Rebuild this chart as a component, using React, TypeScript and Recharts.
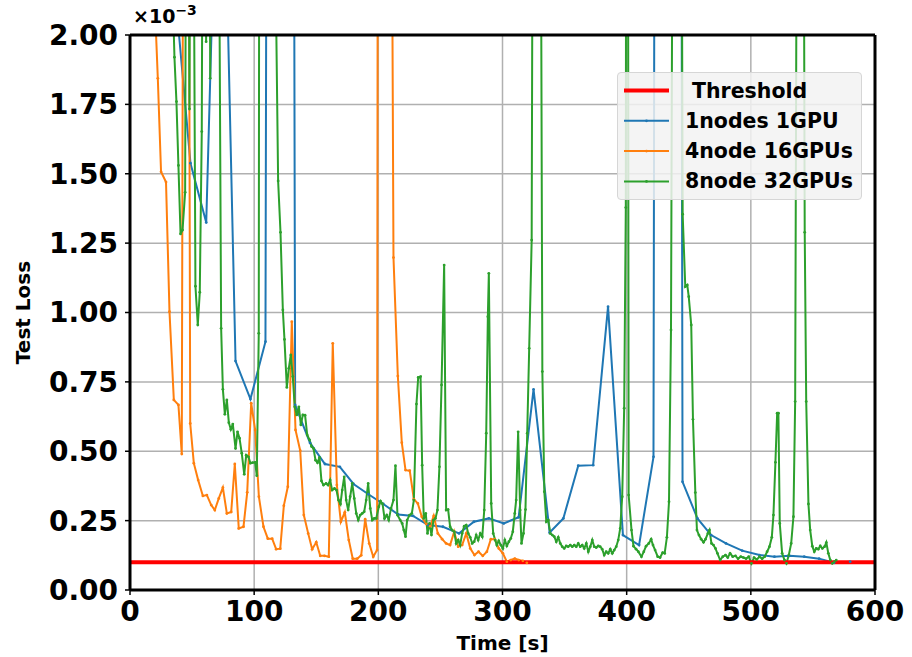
import React from 'react';
import { LineChart, Line, XAxis, YAxis, CartesianGrid, ReferenceLine, Label } from 'recharts';

// Values in units of 1e-3 (axis shows ×10^-3)
const xTicks = [0, 100, 200, 300, 400, 500, 600];
const yTicks = [0, 0.25, 0.5, 0.75, 1, 1.25, 1.5, 1.75, 2];
const thresholdValue = 0.1;

const blueTime = [36.5, 48.7, 61.4, 73, 85, 97, 109.1, 121, 133, 145, 157, 169, 180, 192, 204, 216, 228, 240, 252, 265, 277, 289, 301, 313, 325, 338, 349, 361, 373, 385, 397, 410, 421.6, 433, 445, 457, 468, 480, 493, 507, 519, 531, 543, 555, 567, 580];
const blueLoss = [2.15, 1.538, 1.324, 3.2, 0.825, 0.688, 0.895, 25, 0.667, 0.53, 0.454, 0.444, 0.382, 0.345, 0.31, 0.272, 0.267, 0.234, 0.228, 0.204, 0.246, 0.258, 0.24, 0.262, 0.723, 0.207, 0.258, 0.448, 0.45, 1.021, 0.198, 0.162, 0.48, 30, 0.39, 0.258, 0.198, 0.168, 0.142, 0.126, 0.12, 0.123, 0.12, 0.113, 0.098, 0.102];

const orangeTime = [19.2, 22.4, 25.0, 29.0, 31.8, 35.3, 39.0, 41.7, 45.0, 48.5, 51.4, 54.9, 58.7, 61.9, 65.4, 68.3, 71.5, 74.8, 78.0, 81.5, 84.4, 87.6, 91.4, 94.4, 97.6, 100.8, 103.8, 107.5, 111.0, 114.5, 117.7, 121.0, 123.9, 127.1, 130.3, 133.3, 137.1, 140.0, 143.5, 146.7, 150.0, 153.2, 156.6, 160.1, 163.3, 166.6, 169.8, 173.0, 176.2, 179.4, 183.0, 186.2, 189.4, 192.6, 195.9, 199.0, 202.2, 205.4, 209.0, 212.2, 215.7, 218.9, 221.9, 225.3, 228.6, 231.8, 235.0, 238.5, 241.8, 244.6, 247.9, 251.4, 254.6, 257.8, 261.1, 264.3, 267.5, 270.8, 274.0, 277.4, 280.7, 284.1, 287.4, 290.6, 293.8, 297.0, 300.3, 303.5, 306.7, 309.9, 313.1, 316.4, 319.6];
const orangeLoss = [2.2, 1.844, 1.507, 1.47, 1.003, 0.685, 0.667, 0.49, 6.7, 0.6, 0.457, 0.396, 0.339, 0.342, 0.306, 0.288, 0.33, 0.369, 0.276, 0.281, 0.454, 0.222, 0.228, 0.352, 0.673, 0.577, 0.336, 0.228, 0.185, 0.185, 0.147, 0.149, 0.304, 0.372, 0.967, 0.577, 0.502, 0.27, 0.204, 0.147, 0.172, 0.123, 0.123, 0.12, 0.889, 0.378, 0.246, 0.28, 0.18, 0.113, 0.113, 0.125, 0.255, 0.168, 0.12, 0.144, 15, 20, 4.4, 1.198, 0.771, 0.531, 0.432, 0.43, 0.327, 0.312, 0.264, 0.238, 0.23, 0.267, 0.204, 0.183, 0.168, 0.162, 0.21, 0.156, 0.162, 0.204, 0.15, 0.126, 0.138, 0.123, 0.138, 0.183, 0.183, 0.15, 0.132, 0.102, 0.108, 0.113, 0.108, 0.105, 0.098];

const greenTime = [34.2, 35.8, 37.4, 39.0, 40.7, 42.3, 44.4, 46.0, 47.9, 49.5, 51.1, 52.7, 54.6, 56.2, 57.8, 59.5, 61.3, 62.9, 64.6, 66.3, 68.0, 69.8, 71.5, 73.4, 74.8, 76.4, 78.0, 79.6, 81.2, 82.8, 85.0, 86.6, 88.2, 90.0, 92.0, 93.6, 95.4, 97.0, 98.7, 100.8, 102.1, 103.7, 105.3, 107, 109, 111, 113, 115, 116.2, 117.6, 119.3, 121.2, 123.1, 124.4, 126.3, 127.9, 129.5, 131.1, 132.7, 134.3, 136.0, 137.6, 139.2, 141.0, 142.7, 144.6, 146.2, 147.8, 149.4, 151.0, 152.6, 154.2, 155.8, 157.9, 159.5, 161.2, 162.8, 164.7, 166.3, 167.9, 169.5, 170.9, 172.5, 174.1, 175.7, 177.3, 179.0, 180.6, 182.2, 183.8, 185.4, 187.0, 188.6, 190.2, 191.8, 193.5, 195.1, 196.7, 198.3, 200.4, 201.8, 203.4, 205.0, 206.8, 208.4, 210.2, 212.2, 213.8, 215.4, 217.6, 219.2, 220.5, 221.9, 223.2, 225.1, 227.0, 228.6, 230.7, 232.1, 234.0, 235.3, 236.6, 238.2, 239.6, 241.2, 242.8, 244.4, 246.0, 247.6, 249.2, 250.9, 253.0, 254.6, 256.2, 257.8, 259.4, 261.1, 262.7, 264.3, 265.9, 267.5, 269.1, 270.8, 272.4, 274.0, 275.6, 277.2, 278.8, 280.4, 282.1, 283.7, 285.3, 286.9, 288.2, 289.0, 290.9, 292.5, 294.1, 295.4, 297.0, 298.6, 300.3, 301.9, 303.5, 305.1, 306.7, 308.3, 309.9, 311.0, 312.6, 314.2, 315.3, 316.9, 318.5, 319.9, 321.5, 323.5, 325.1, 326.9, 328.7, 330.4, 332.1, 333.7, 335.3, 336.9, 338.5, 340.1, 341.7, 343.3, 344.9, 346.5, 348.1, 349.7, 351.3, 352.9, 354.6, 356.2, 357.8, 359.4, 361.0, 362.6, 364.2, 365.8, 367.5, 369.1, 370.7, 372.3, 373.9, 375.5, 377.1, 378.7, 380.3, 381.9, 383.5, 385.1, 386.8, 388.4, 390.0, 391.6, 393.2, 394.8, 396.4, 398.0, 399.3, 400.3, 401.6, 403.9, 405.5, 407.6, 409.4, 411.9, 413.8, 415.6, 417.8, 419.7, 421.2, 422.9, 425.0, 426.9, 429.0, 430.6, 432.4, 434.1, 435.7, 437.3, 439.0, 440.7, 442.4, 444.0, 445.1, 447.2, 448.8, 450.0, 452.0, 453.4, 455.3, 456.6, 458.2, 460.0, 461.9, 463.5, 465.4, 466.7, 468.3, 469.9, 471.5, 473.1, 475.3, 477.4, 479.6, 481.4, 483.3, 485.4, 487.6, 489.7, 491.9, 494.0, 496.2, 498.3, 500.5, 502.6, 504.8, 506.9, 509.1, 511.2, 513.1, 515.0, 516.9, 518.2, 519.8, 521.2, 522.2, 523.3, 525.2, 527.1, 528.7, 530.6, 532.5, 534.3, 535.7, 537.3, 539.0, 540.7, 542.2, 543.4, 544.6, 546.4, 547.8, 549.5, 551.1, 552.7, 554.3, 555.9, 557.6, 559.4, 560.8, 562.4, 564.0, 565.6, 567.2, 568.8];
const greenLoss = [2.18, 1.92, 1.76, 1.53, 1.283, 1.297, 1.433, 4, 1.733, 4, 2.6, 1.095, 0.955, 1.073, 1.652, 4, 1.976, 4, 1.844, 5, 8, 6, 2.6, 0.943, 0.723, 0.633, 0.685, 0.603, 0.579, 0.598, 0.51, 0.57, 0.547, 0.493, 0.417, 0.486, 0.48, 0.457, 0.459, 0.46, 0.412, 0.925, 8, 10, 9, 10, 8, 6, 4, 2.1, 1.474, 1.289, 1.009, 0.903, 0.73, 0.799, 0.847, 0.769, 0.66, 0.631, 0.66, 0.595, 0.631, 0.63, 0.559, 0.541, 0.517, 0.51, 0.468, 0.459, 0.478, 0.393, 0.378, 0.384, 0.378, 0.396, 0.36, 0.366, 0.36, 0.324, 0.31, 0.36, 0.408, 0.324, 0.288, 0.336, 0.384, 0.33, 0.276, 0.252, 0.27, 0.276, 0.282, 0.324, 0.384, 0.294, 0.252, 0.258, 0.258, 0.3, 0.32, 0.31, 0.258, 0.27, 0.252, 0.294, 0.324, 0.448, 0.27, 0.252, 0.24, 0.216, 0.192, 0.252, 0.27, 0.276, 0.324, 0.67, 0.766, 0.769, 0.45, 0.258, 0.276, 0.204, 0.24, 0.198, 0.252, 0.258, 0.288, 0.444, 0.739, 1.171, 0.288, 0.29, 0.228, 0.216, 0.21, 0.168, 0.18, 0.162, 0.204, 0.23, 0.234, 0.204, 0.19, 0.168, 0.174, 0.198, 0.18, 0.204, 0.192, 0.288, 0.565, 0.985, 1.141, 0.312, 0.204, 0.18, 0.162, 0.177, 0.162, 0.15, 0.18, 0.159, 0.174, 0.186, 0.21, 0.276, 0.324, 0.57, 0.288, 0.168, 0.204, 0.29, 0.565, 0.871, 1.261, 4, 9, 6, 3.2, 0.787, 0.354, 0.246, 0.252, 0.204, 0.198, 0.192, 0.174, 0.19, 0.168, 0.156, 0.15, 0.159, 0.156, 0.162, 0.156, 0.162, 0.156, 0.168, 0.156, 0.162, 0.15, 0.168, 0.138, 0.156, 0.18, 0.156, 0.153, 0.159, 0.156, 0.147, 0.126, 0.138, 0.132, 0.147, 0.132, 0.144, 0.156, 0.18, 0.222, 0.336, 0.655, 1.378, 6, 0.342, 0.216, 0.158, 0.147, 0.138, 0.12, 0.138, 0.158, 0.168, 0.183, 0.162, 0.144, 0.12, 0.117, 0.135, 0.132, 0.19, 0.318, 0.937, 3, 8, 8, 6, 3, 1.354, 1.093, 1.099, 1.057, 0.955, 0.615, 0.351, 0.216, 0.198, 0.183, 0.172, 0.183, 0.204, 0.216, 0.168, 0.162, 0.15, 0.132, 0.108, 0.12, 0.126, 0.117, 0.132, 0.12, 0.123, 0.113, 0.12, 0.117, 0.113, 0.12, 0.096, 0.117, 0.11, 0.12, 0.113, 0.12, 0.138, 0.156, 0.19, 0.27, 0.46, 0.637, 0.637, 0.24, 0.132, 0.108, 0.096, 0.126, 0.168, 0.264, 0.679, 3, 8, 7, 3.2, 1.289, 0.679, 0.31, 0.216, 0.158, 0.138, 0.15, 0.147, 0.159, 0.15, 0.156, 0.171, 0.132, 0.108, 0.096, 0.102, 0.108];

const seriesNames = [' Threshold', '1nodes 1GPU', '4node 16GPUs', '8node 32GPUs'];
const seriesColors = ['#ff0000', '#1f77b4', '#ff7f0e', '#2ca02c'];

const zip = (ts: number[], vs: number[]) => ts.map((t, i) => ({ t, v: vs[i] }));

const blueData = zip(blueTime, blueLoss);
const orangeData = zip(orangeTime, orangeLoss);
const greenData = zip(greenTime, greenLoss);
const thresholdData = [{ t: 0, v: thresholdValue }, { t: 600, v: thresholdValue }];

const FONT = "'DejaVu Sans', Verdana, sans-serif";

const LegendBox = () => (
  <div
    style={{
      position: 'absolute',
      left: 617,
      top: 72,
      width: 245,
      height: 128,
      background: 'rgba(242,242,242,0.85)',
      border: '1px solid #d6d6d6',
      borderRadius: 4,
      boxSizing: 'border-box',
    }}
  >
    <svg width={245} height={128} style={{ position: 'absolute', left: 0, top: 0 }}>
      {seriesNames.map((name, i) => {
        const y = 17.5 + i * 30.3;
        return (
          <g key={name}>
            <line x1={6} x2={51} y1={y} y2={y} stroke={seriesColors[i]} strokeWidth={i === 0 ? 4 : 2} />
            {i > 0 && <circle cx={28.5} cy={y} r={1.4} fill={seriesColors[i]} />}
            <text
              x={i === 0 ? 74 : 67}
              y={y}
              dominantBaseline="central"
              fontFamily={FONT}
              fontWeight="bold"
              fontSize={20.5}
              fill="#000"
            >
              {name.trim()}
            </text>
          </g>
        );
      })}
    </svg>
  </div>
);

export default function App() {
  const tickStyle = { fontFamily: FONT, fontWeight: 'bold' as const, fontSize: 28, fill: '#000' };
  const dot = (c: string) => ({ r: 1.4, fill: c, stroke: c, strokeWidth: 0 });
  return (
    <div style={{ position: 'absolute', left: 0, top: 0, width: 912, height: 657, background: '#fff' }}>
      <LineChart width={912} height={657} margin={{ top: 35, right: 37, bottom: 0, left: 0 }}>
        <CartesianGrid stroke="#b0b0b0" strokeWidth={1.5} />
        <XAxis
          dataKey="t"
          type="number"
          domain={[0, 600]}
          ticks={xTicks}
          allowDataOverflow
          height={67}
          tick={tickStyle}
          tickSize={5}
          tickMargin={6}
          tickLine={{ stroke: '#000', strokeWidth: 1.5 }}
          axisLine={{ stroke: '#000', strokeWidth: 3 }}
        >
          <Label
            value="Time [s]"
            position="insideBottom"
            offset={7}
            style={{ fontFamily: FONT, fontWeight: 'bold', fontSize: 20, fill: '#000' }}
          />
        </XAxis>
        <YAxis
          dataKey="v"
          type="number"
          domain={[0, 2]}
          ticks={yTicks}
          allowDataOverflow
          width={130}
          tick={tickStyle}
          tickFormatter={(v: number) => v.toFixed(2)}
          tickSize={5}
          tickMargin={7}
          tickLine={{ stroke: '#000', strokeWidth: 1.5 }}
          axisLine={{ stroke: '#000', strokeWidth: 3 }}
        >
          <Label
            value="Test Loss"
            angle={-90}
            position="insideLeft"
            offset={23}
            style={{ fontFamily: FONT, fontWeight: 'bold', fontSize: 20, fill: '#000', textAnchor: 'middle' }}
          />
        </YAxis>
        <Line data={blueData} dataKey="v" name={seriesNames[1]} stroke={seriesColors[1]} strokeWidth={2} dot={dot(seriesColors[1])} activeDot={false} isAnimationActive={false} />
        <Line data={orangeData} dataKey="v" name={seriesNames[2]} stroke={seriesColors[2]} strokeWidth={2} dot={dot(seriesColors[2])} activeDot={false} isAnimationActive={false} />
        <Line data={greenData} dataKey="v" name={seriesNames[3]} stroke={seriesColors[3]} strokeWidth={2} dot={dot(seriesColors[3])} activeDot={false} isAnimationActive={false} />
        <Line data={thresholdData} dataKey="v" name={seriesNames[0]} stroke={seriesColors[0]} strokeWidth={4} dot={false} activeDot={false} isAnimationActive={false} />
        <ReferenceLine x={600} stroke="#000" strokeWidth={3} />
        <ReferenceLine y={2} stroke="#000" strokeWidth={3} />
      </LineChart>
      <div
        style={{
          position: 'absolute',
          left: 133,
          top: 5,
          fontFamily: FONT,
          fontWeight: 'bold',
          fontSize: 19,
          color: '#000',
          whiteSpace: 'pre',
        }}
      >
        ×10<sup style={{ fontSize: 14, verticalAlign: 'baseline', position: 'relative', top: -8 }}>−3</sup>
      </div>
      <LegendBox />
    </div>
  );
}
